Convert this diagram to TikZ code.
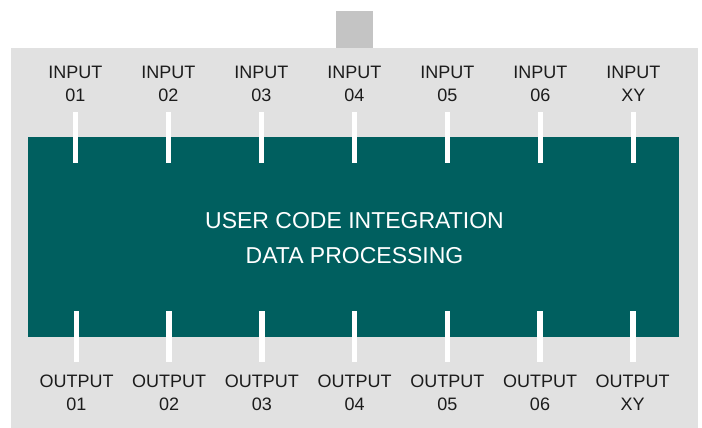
\documentclass[tikz,border=0pt]{standalone}
\usepackage{fontspec}
\setmainfont{Liberation Sans}
\definecolor{panelgray}{HTML}{E1E1E1}
\definecolor{tabgray}{HTML}{C4C4C4}
\definecolor{tealbox}{HTML}{005F5F}
\definecolor{labeltext}{HTML}{1C1C1C}
\begin{document}
\begin{tikzpicture}[x=1pt,y=-1pt,
  lbl/.style={anchor=base,inner sep=0pt,text=labeltext,font=\fontsize{18}{22}\selectfont},
  title/.style={anchor=base,inner sep=0pt,text=white,font=\fontsize{23}{28}\selectfont},
  pin/.style={fill=white,draw=none}]
\useasboundingbox (0,0) rectangle (702,428);
\fill[white] (0,0) rectangle (702,428);
\fill[panelgray] (11,48) rectangle (698,428);
\fill[tabgray] (336,11) rectangle (373,48);
\node[fill=tealbox,minimum width=651pt,minimum height=200pt,inner sep=0pt,anchor=north west] (core) at (28,137) {};
\node[title] (t1) at (354.5,228) {USER CODE INTEGRATION};
\node[title] (t2) at (354.5,263) {DATA PROCESSING};
\foreach \i/\lab in {0/01,1/02,2/03,3/04,4/05,5/06,6/XY}{
  \pgfmathsetmacro{\xi}{75.3+93.03*\i}
  \pgfmathsetmacro{\xo}{76.5+92.7*\i}
  \fill[pin] (\xi-2.8,112) rectangle (\xi+2.8,163);
  \fill[pin] (\xo-2.8,311) rectangle (\xo+2.8,362);
  \node[lbl] (ia\i) at (\xi,79) {INPUT};
  \node[lbl] (ib\i) at (\xi,102) {\lab};
  \node[lbl] (oa\i) at (\xo,387) {OUTPUT};
  \node[lbl] (ob\i) at (\xo,410.5) {\lab};
}
\end{tikzpicture}
\end{document}
